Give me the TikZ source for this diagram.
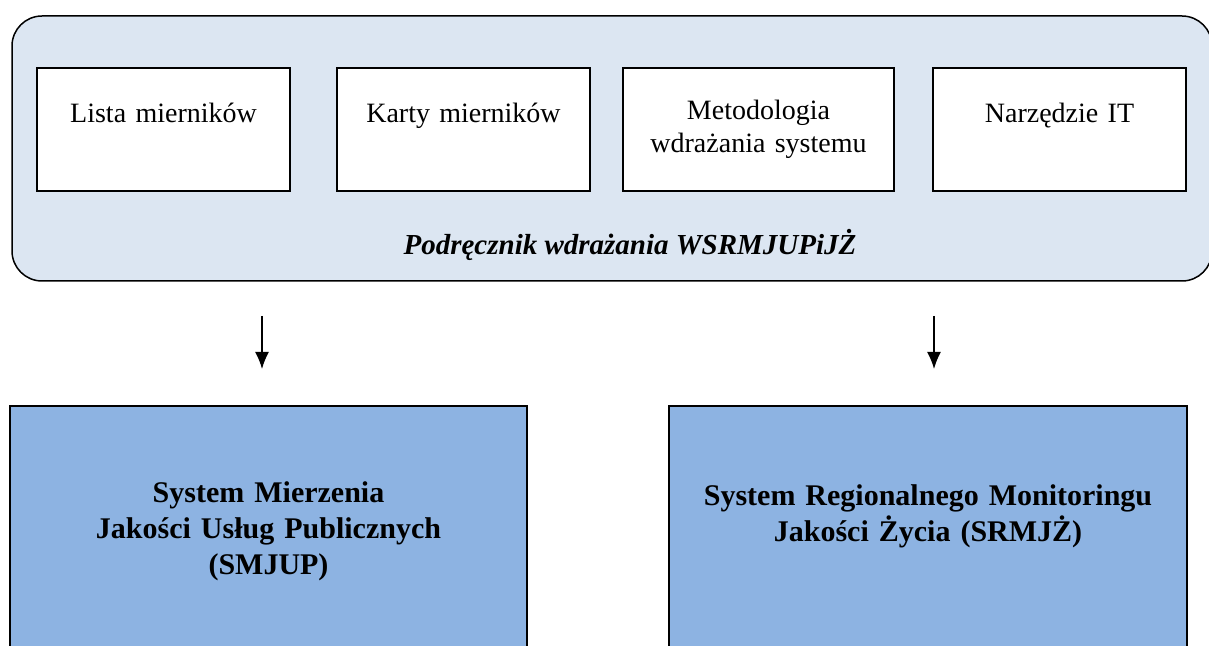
\documentclass[tikz,border=0pt]{standalone}
\usepackage{fontspec}
\setmainfont{Liberation Serif}
\usepackage{tikz}
\usetikzlibrary{shapes,arrows.meta,positioning,calc}
\definecolor{manualbg}{RGB}{220,230,242}
\definecolor{systembg}{RGB}{141,179,226}
\tikzstyle{manualblock} = [rectangle, draw, line width=0.75pt, fill=manualbg, 
    rounded corners=15pt, minimum width=600pt, minimum height=132.5pt]
\tikzstyle{partblock} = [rectangle, draw, line width=1pt, fill=white, 
    text width=112pt, align=center, minimum width=126.5pt, minimum height=61.5pt,
    font=\fontsize{14}{16.5}\selectfont]
\tikzstyle{systemblock} = [rectangle, draw, line width=1pt, fill=systembg, 
    text width=245pt, align=center, minimum width=258.5pt, minimum height=125pt,
    font=\fontsize{15}{18}\selectfont\bfseries]
\tikzstyle{line} = [draw, line width=0.75pt, -{Latex[length=8.5pt,width=7pt]}]

\begin{document}
\begin{tikzpicture}[x=0.5pt,y=-0.5pt]
    \clip (0,0) rectangle (1209,646);
    \node [manualblock] (manual) at (612,148.5) {};
    \node [partblock] (lista) at (163.5,129.5) {Lista mierników\\~};
    \node [partblock, right=22.5pt of lista] (karty) {Karty mierników\\~};
    \node [partblock, right=15.5pt of karty, minimum width=135.5pt] (metodologia) {Metodologia\\wdrażania systemu};
    \node [partblock, right=18.5pt of metodologia] (narzedzie) {Narzędzie IT\\~};
    \node (manualtitle) at (630,245) {\fontsize{14.5}{16}\selectfont\bfseries\itshape Podręcznik wdrażania WSRMJUPiJŻ};
    \node [systemblock] (smjup) at (268.5,531) {System Mierzenia\\Jakości Usług Publicznych\\(SMJUP)};
    \node [systemblock, minimum width=259pt] (srmjz) at (928,531) {System Regionalnego Monitoringu\\Jakości Życia (SRMJŻ)\\~};
    % Draw edges
    \coordinate (leftstart) at (262,316);
    \coordinate (rightstart) at (934,316);
    \path[line, shorten >=18pt] (leftstart) -- (leftstart |- smjup.north);
    \path[line, shorten >=18pt] (rightstart) -- (rightstart |- srmjz.north);
\end{tikzpicture}
\end{document}
